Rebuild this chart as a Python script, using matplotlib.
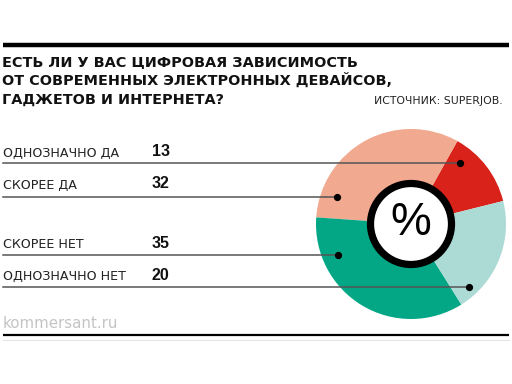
import matplotlib
matplotlib.use("Agg")
import matplotlib.pyplot as plt
from matplotlib.patches import Circle

title_lines = ["ЕСТЬ ЛИ У ВАС ЦИФРОВАЯ ЗАВИСИМОСТЬ",
               "ОТ СОВРЕМЕННЫХ ЭЛЕКТРОННЫХ ДЕВАЙСОВ,",
               "ГАДЖЕТОВ И ИНТЕРНЕТА?"]
source = "ИСТОЧНИК: SUPERJOB."
categories = ["ОДНОЗНАЧНО ДА", "СКОРЕЕ ДА", "СКОРЕЕ НЕТ", "ОДНОЗНАЧНО НЕТ"]
values = [13, 32, 35, 20]
colors = ["#d92219", "#f1a990", "#03a786", "#acdbd6"]
brand = "kommersant.ru"

W, H = 512, 384
fig = plt.figure(figsize=(W / 100, H / 100), dpi=100)
ax = fig.add_axes([0, 0, 1, 1])

def Y(y):
    return H - y

# pie
cx, cy, R = 411, Y(224), 95
ax.pie(values, colors=colors, startangle=14, counterclock=True,
       center=(cx, cy), radius=R, frame=True,
       wedgeprops=dict(linewidth=0))
ax.add_patch(Circle((cx, cy), 40.5, facecolor="white", edgecolor="black",
                    linewidth=5.2, zorder=5))
ax.text(cx, cy + 1, "%", ha="center", va="center", fontsize=33,
        family="Liberation Sans", color="black", zorder=6)

ax.set_xlim(0, W)
ax.set_ylim(0, H)
ax.set_aspect("auto")
ax.axis("off")

# top bar
ax.plot([3, 509], [Y(45), Y(45)], color="black", lw=3.2, solid_capstyle="butt")

# title
for i, t in enumerate(title_lines):
    ax.text(2, Y(66 + i * 19), t, fontsize=10.4, fontweight="bold",
            family="DejaVu Sans", ha="left", va="baseline", color="#111111")
ax.text(503, Y(104), source, fontsize=7.8, family="DejaVu Sans",
        ha="right", va="baseline", color="#222222")

# labels
label_y = [153, 185, 244, 276]
line_y = [163, 197, 255, 287]
dot_x = [460, 337, 338, 469]
for cat, v, ly, lny, dx in zip(categories, values, label_y, line_y, dot_x):
    ax.text(3, Y(ly), cat, fontsize=9.1, family="DejaVu Sans",
            ha="left", va="center", color="#222222")
    ax.text(152, Y(ly - 1), str(v), fontsize=11.5, fontweight="bold",
            family="Liberation Sans", ha="left", va="center", color="#111111")
    ax.plot([3, dx], [Y(lny), Y(lny)], color="#555555", lw=1.1, zorder=7)
    ax.plot([dx], [Y(lny)], "o", color="black", ms=4.2, zorder=8)

# footer
ax.text(3, Y(323), brand, fontsize=10.8, family="DejaVu Sans",
        ha="left", va="center", color="#c4c4c4")
ax.plot([3, 509], [Y(335), Y(335)], color="black", lw=1.6, solid_capstyle="butt")
ax.plot([3, 509], [Y(339.5), Y(339.5)], color="#e4e4e4", lw=0.8)

fig.savefig("out.png", dpi=100)
